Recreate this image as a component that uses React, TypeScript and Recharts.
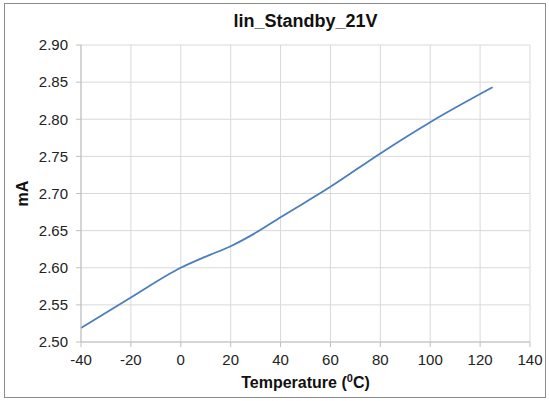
import { LineChart, Line, XAxis, YAxis, CartesianGrid, Label } from 'recharts'

const temperatures = [-40, -20, 0, 10, 20, 30, 40, 60, 80, 100, 125]
const currentMa = [2.519, 2.56, 2.6, 2.615, 2.629, 2.647, 2.668, 2.709, 2.754, 2.796, 2.843]
const xTicks = [-40, -20, 0, 20, 40, 60, 80, 100, 120, 140]
const yTicks = [2.5, 2.55, 2.6, 2.65, 2.7, 2.75, 2.8, 2.85, 2.9]

const data = temperatures.map((t, i) => ({ t, ma: currentMa[i] }))

const font = '"Liberation Sans", Arial, sans-serif'
const tickStyle = { fontSize: 15, fill: '#222', fontFamily: font }

// x axis title with a raised "0" like the original
function TempLabel({ viewBox }: any) {
  const cx = viewBox.x + viewBox.width / 2
  return (
    <text
      x={cx}
      y={388}
      textAnchor="middle"
      fontFamily={font}
      fontWeight="bold"
      fontSize={16}
      fill="#111"
    >
      <tspan>Temperature (</tspan>
      <tspan dy={-6} fontSize={11}>0</tspan>
      <tspan dy={6}>C)</tspan>
    </text>
  )
}

export default function App() {
  return (
    <div style={{ position: 'absolute', left: 0, top: 0, width: 549, height: 401, background: '#fff' }}>
      <div
        style={{
          position: 'absolute',
          left: 4,
          top: 3,
          width: 542,
          height: 395,
          border: '1px solid #8c8c8c',
          boxSizing: 'border-box',
        }}
      />
      <div
        style={{
          position: 'absolute',
          left: 81,
          width: 449,
          top: 11,
          textAlign: 'center',
          fontFamily: font,
          fontWeight: 'bold',
          fontSize: 18,
          color: '#111',
        }}
      >
        lin_Standby_21V
      </div>
      <LineChart
        width={549}
        height={401}
        data={data}
        margin={{ top: 45, right: 19, left: 0, bottom: 0 }}
        style={{ position: 'absolute', left: 0, top: 0 }}
      >
        <CartesianGrid stroke="#d9d9d9" strokeWidth={1} />
        <XAxis
          dataKey="t"
          type="number"
          domain={[-40, 140]}
          ticks={xTicks}
          height={59}
          tickSize={5}
          tickMargin={7}
          stroke="#bfbfbf"
          tick={tickStyle}
          interval={0}
        >
          <Label content={TempLabel} />
        </XAxis>
        <YAxis
          type="number"
          domain={[2.5, 2.9]}
          ticks={yTicks}
          width={81}
          tickSize={5}
          tickMargin={8}
          stroke="#bfbfbf"
          tick={tickStyle}
          tickFormatter={(v: number) => v.toFixed(2)}
          interval={0}
        >
          <Label
            value="mA"
            angle={-90}
            position="insideLeft"
            offset={22}
            style={{ fontSize: 16, fontWeight: 'bold', fill: '#111', fontFamily: font, textAnchor: 'middle' }}
          />
        </YAxis>
        <Line
          dataKey="ma"
          type="monotone"
          stroke="#4a7ebb"
          strokeWidth={1.75}
          dot={false}
          isAnimationActive={false}
        />
      </LineChart>
    </div>
  )
}
